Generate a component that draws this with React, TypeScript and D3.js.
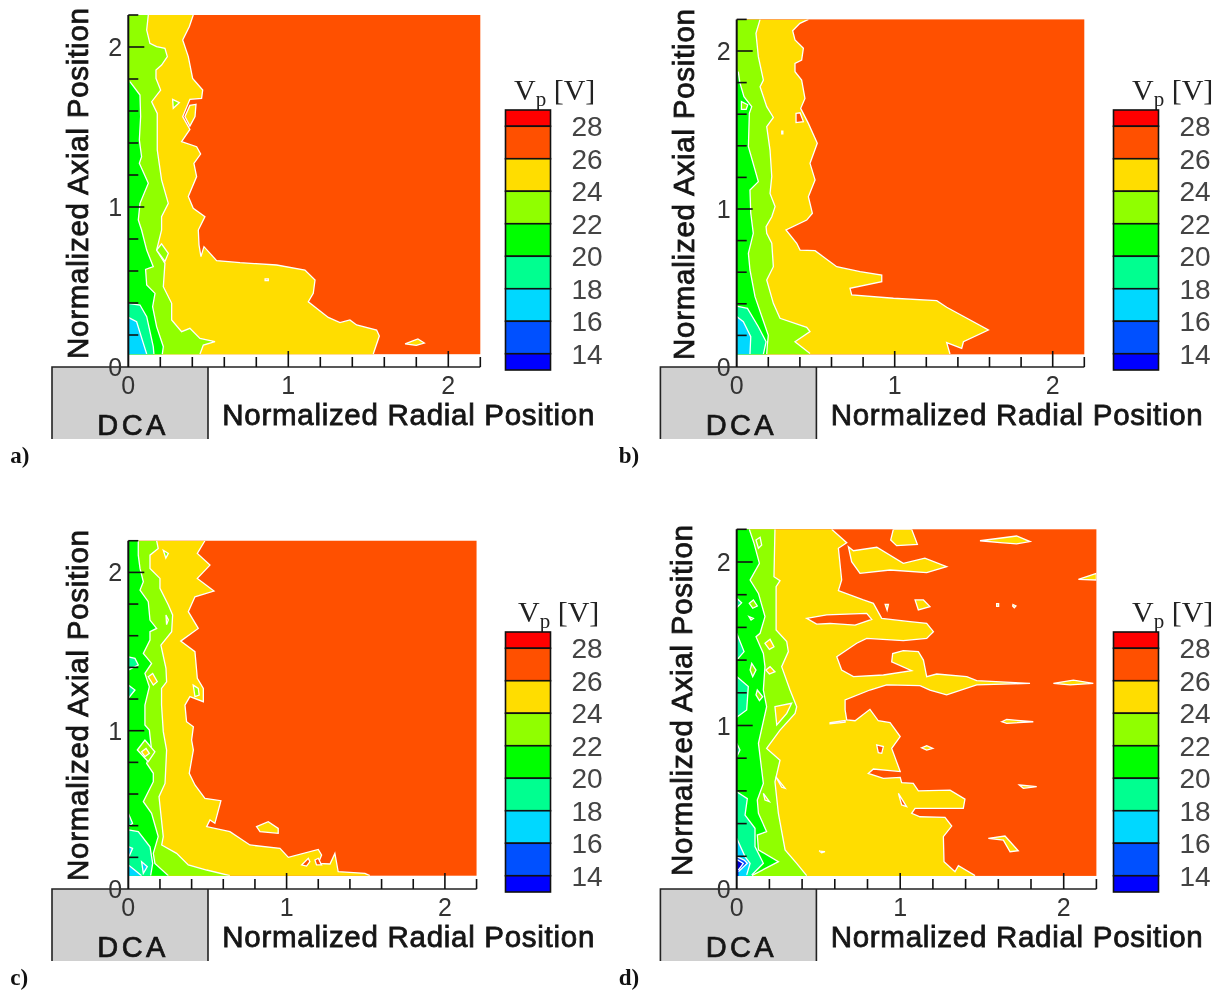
import React from "react";
import * as d3 from "d3";

type P = [number, number];

const levels = [28, 26, 24, 22, 20, 18, 16, 14];
const bandColors = ["#ff0000", "#ff5000", "#ffdd00", "#90ff00", "#00ff00", "#00ff90", "#00d8ff", "#0050ff", "#0000ff"];
const ORANGE = "#ff5000", YELLOW = "#ffdd00", LIME = "#90ff00", GREEN = "#00ff00", SPRING = "#00ff90", CYAN = "#00d8ff", BLUE = "#0050ff", DEEP = "#0000d8";
const axisTicks = [0, 0.2, 0.4, 0.6, 0.8, 1, 1.2, 1.4, 1.6, 1.8, 2, 2.2];
const majorTicks = [0, 1, 2];

// Panel a: contour edges as [radial, axial]
const a24: P[] = [[.406,2.2],[.381,2.127],[.34,2.044],[.375,1.94],[.402,1.804],[.465,1.731],[.458,1.679],[.385,1.673],[.34,1.565],[.385,1.485],[.333,1.408],[.427,1.377],[.452,1.331],[.41,1.273],[.427,1.19],[.375,1.065],[.406,.992],[.479,.94],[.4375,.856],[.442,.7625],[.454,.69],[.473,.752],[.552,.665],[.698,.652],[.927,.6375],[1.104,.606],[1.167,.544],[1.156,.46],[1.125,.408],[1.25,.31],[1.323,.277],[1.385,.294],[1.427,.2625],[1.552,.231],[1.569,.194],[1.531,.081]];
const a22: P[] = [[.125,2.2],[.115,2.106],[.135,2.023],[.177,2.002],[.229,1.992],[.244,1.94],[.208,1.8875],[.173,1.856],[.173,1.804],[.202,1.731],[.146,1.658],[.181,1.585],[.181,1.356],[.208,1.169],[.25,1.023],[.208,.94],[.208,.856],[.177,.731],[.229,.648],[.219,.502],[.271,.398],[.271,.294],[.333,.221],[.385,.242],[.448,.179],[.542,.158],[.469,.1375],[.448,.081]];
const a20: P[] = [[.01,1.783],[.073,1.7],[.077,1.565],[.069,1.419],[.083,1.315],[.069,1.273],[.125,1.148],[.073,1.023],[.0625,.919],[.083,.856],[.115,.731],[.156,.627],[.108,.61],[.115,.5125],[.167,.46],[.152,.377],[.177,.252],[.219,.127],[.2125,.081]];
const a18: P[] = [[0,.398],[.073,.3875],[.115,.3146],[.156,.127],[.16,.081]];
const a16: P[] = [[0,.31],[.052,.283],[.094,.148],[.115,.081]];
const aIslands: [string, P[]][] = [
  [YELLOW, [[1.73,.145],[1.77,.16],[1.81,.175],[1.85,.15],[1.8,.135]]],
  [ORANGE, [[.855,.55],[.875,.55],[.875,.54],[.855,.54]]],
  [YELLOW, [[.423,1.642],[.385,1.635],[.354,1.565],[.385,1.506],[.417,1.565]]],
  [LIME, [[.277,1.673],[.319,1.652],[.281,1.617]]],
  [LIME, [[.208,.77],[.25,.71],[.229,.66],[.177,.731]]],
];

// Panel b
const b24: P[] = [[.454,2.2],[.4,2.175],[.354,2.128],[.369,2.07],[.422,2.017],[.411,1.943],[.369,1.922],[.369,1.869],[.411,1.816],[.432,1.7],[.405,1.637],[.4536,1.542],[.51,1.416],[.464,1.289],[.496,1.184],[.4536,1.078],[.479,.973],[.443,.93],[.312,.867],[.38,.783],[.401,.74],[.496,.736],[.633,.635],[.781,.603],[.918,.582],[.918,.54],[.717,.498],[.728,.456],[.992,.435],[1.266,.42],[1.329,.378],[1.593,.234],[1.435,.16],[1.424,.118],[1.329,.154],[1.35,.082]];
const b22: P[] = [[.148,2.2],[.122,2.112],[.137,1.964],[.169,1.816],[.148,1.774],[.19,1.648],[.232,1.58],[.19,1.521],[.211,1.373],[.222,1.205],[.211,1.099],[.243,1.015],[.222,.951],[.186,.888],[.19,.846],[.222,.783],[.232,.635],[.19,.551],[.232,.403],[.274,.308],[.443,.251],[.464,.224],[.369,.16],[.464,.086]];
const b20: P[] = [[.01,1.869],[.02,1.8],[.046,1.711],[.095,1.648],[.08,1.605],[.074,1.395],[.137,1.173],[.084,1.12],[.089,.973],[.105,.846],[.074,.719],[.084,.614],[.116,.445],[.2,.2],[.194,.139],[.19,.082]];
const b18: P[] = [[0,.386],[.068,.371],[.137,.255],[.186,.16],[.169,.082]];
const b16: P[] = [[0,.319],[.042,.287],[.089,.192],[.084,.082]];
const bIslands: [string, P[]][] = [
  [ORANGE, [[.3755,1.605],[.401,1.609],[.422,1.553],[.3755,1.547]]],
  [ORANGE, [[.285,1.492],[.292,1.492],[.292,1.475],[.285,1.475]]],
  [LIME, [[.03,1.68],[.07,1.66],[.06,1.63],[.03,1.63]]],
];

// Panel c
const c24: P[] = [[.484,2.2],[.436,2.12],[.516,2.046],[.436,1.962],[.541,1.882],[.421,1.846],[.379,1.752],[.442,1.646],[.331,1.566],[.421,1.499],[.436,1.331],[.474,1.267],[.474,1.183],[.389,1.215],[.358,1.162],[.368,1.057],[.411,1.025],[.4,.941],[.411,.878],[.385,.731],[.421,.657],[.484,.573],[.585,.558],[.547,.415],[.516,.436],[.495,.394],[.642,.362],[.768,.278],[.958,.257],[1.011,.2],[1.2,.25],[1.221,.215],[1.2,.162],[1.274,.158],[1.305,.225],[1.326,.109],[1.495,.099],[1.526,.084]];
const c22: P[] = [[.179,2.2],[.189,2.151],[.137,2.109],[.137,2.025],[.2,1.962],[.2,1.899],[.253,1.794],[.28,1.731],[.274,1.625],[.206,1.541],[.238,1.394],[.242,1.309],[.21,1.267],[.21,1.162],[.221,.994],[.242,.878],[.232,.667],[.194,.583],[.221,.331],[.211,.278],[.305,.225],[.379,.152],[.495,.12],[.642,.084]];
const c20: P[] = [[.063,2.2],[.063,2.109],[.074,2.025],[.095,1.941],[.074,1.888],[.126,1.815],[.137,1.699],[.179,1.646],[.137,1.625],[.137,1.573],[.095,1.488],[.147,1.425],[.105,1.362],[.133,1.278],[.105,1.162],[.105,1.036],[.133,1.004],[.147,.878],[.116,.794],[.158,.731],[.158,.678],[.095,.552],[.147,.478],[.189,.331],[.158,.225],[.168,.162],[.253,.084]];
const c18: P[] = [[0,.373],[.063,.362],[.137,.267],[.154,.162],[.141,.084]];
const c16: P[] = [[0,.152],[.04,.12],[.084,.084]];
const cIslands: [string, P[]][] = [
  [YELLOW, [[.81,.394],[.884,.425],[.947,.383],[.947,.352],[.832,.362]]],
  [ORANGE, [[1.095,.152],[1.137,.194],[1.147,.173],[1.126,.145]]],
  [ORANGE, [[1.179,.183],[1.2,.194],[1.221,.152],[1.189,.152]]],
  [LIME, [[.41,1.288],[.442,1.267],[.448,1.225],[.421,1.215]]],
  [LIME, [[.221,2.14],[.253,2.12],[.237,2.09]]],
  [YELLOW, [[.238,1.731],[.253,1.7],[.242,1.67]]],
  [LIME, [[.057,.878],[.105,.941],[.168,.867],[.126,.804]]],
  [YELLOW, [[.084,.867],[.112,.888],[.133,.857],[.105,.836]]],
  [YELLOW, [[.126,1.341],[.154,1.362],[.183,1.31],[.158,1.288]]],
  [SPRING, [[0,1.467],[.042,1.457],[.063,1.415],[0,1.383]]],
  [SPRING, [[0,1.288],[.042,1.257],[0,1.204]]],
  [SPRING, [[0,.478],[.027,.415],[0,.394]]],
  [CYAN, [[0,.267],[.027,.257],[0,.194]]],
  [CYAN, [[.084,.173],[.12,.141],[.095,.099]]],
];

// Panel d
const d24: P[] = [[.581,2.2],[.673,2.118],[.622,2.084],[.642,1.89],[.622,1.825],[.775,1.768],[.836,1.747],[.887,1.655],[1.06,1.635],[1.162,1.625],[1.203,1.574],[1.162,1.533],[1.019,1.519],[.795,1.533],[.734,1.503],[.612,1.421],[.642,1.339],[.714,1.299],[.897,1.309],[1.07,1.335],[.948,1.39],[.954,1.44],[1.019,1.458],[1.111,1.452],[1.142,1.4],[1.162,1.299],[1.223,1.315],[1.407,1.299],[1.468,1.274],[1.794,1.258],[1.468,1.248],[1.284,1.187],[1.182,1.217],[1.121,1.244],[.917,1.248],[.815,1.217],[.663,1.156],[.663,1.095],[.673,1.034],[.724,1.029],[.815,1.099],[.866,1.029],[.938,1.017],[1.0,.932],[.948,.86],[1.0,.718],[.836,.734],[.805,.707],[.897,.677],[1.0,.683],[1.009,.65],[1.08,.646],[1.111,.6],[1.305,.605],[1.396,.55],[1.386,.493],[1.091,.493],[1.07,.463],[1.121,.442],[1.274,.438],[1.315,.385],[1.264,.32],[1.268,.167],[1.335,.106],[1.356,.143],[1.458,.082]];
const d22: P[] = [[.234,2.2],[.228,1.91],[.265,1.886],[.241,1.849],[.241,1.584],[.306,1.513],[.316,1.452],[.275,1.36],[.326,1.217],[.367,1.115],[.357,1.074],[.265,.972],[.183,.86],[.265,.788],[.234,.656],[.255,.463],[.296,.239],[.367,.157],[.428,.082]];
const d20: P[] = [[.077,2.2],[.106,2.114],[.139,1.992],[.082,1.89],[.133,1.808],[.173,1.666],[.143,1.564],[.118,1.543],[.163,1.441],[.173,1.36],[.163,1.217],[.183,1.115],[.133,.891],[.163,.646],[.126,.544],[.133,.463],[.183,.351],[.126,.33],[.133,.239],[.255,.167],[.092,.082]];
const d18: P[] = [[0,.595],[.065,.553],[.051,.452],[.112,.371],[.112,.259],[.163,.157],[.092,.086]];
const d16: P[] = [[0,.31],[.051,.198],[.082,.157],[.061,.086]];
const d14: P[] = [[0,.198],[.045,.177],[.065,.157],[.01,.106]];
const d13: P[] = [[0,.181],[.04,.157],[.01,.116]];
const dIslands: [string, P[]][] = [
  [YELLOW, [[.958,2.2],[1.07,2.2],[1.105,2.108],[.978,2.1],[.942,2.135]]],
  [YELLOW, [[1.488,2.13],[1.712,2.159],[1.794,2.125],[1.712,2.111],[1.611,2.119]]],
  [YELLOW, [[.683,2.094],[.714,2.069],[.857,2.09],[1.019,1.992],[1.151,2.023],[1.284,1.971],[1.162,1.935],[.938,1.951],[.754,1.931],[.703,2.002]]],
  [YELLOW, [[2.09,1.894],[2.2,1.931],[2.2,1.89]]],
  [YELLOW, [[1.091,1.768],[1.142,1.768],[1.182,1.727],[1.111,1.707]]],
  [YELLOW, [[.908,1.74],[.928,1.74],[.92,1.705]]],
  [YELLOW, [[1.59,1.745],[1.602,1.745],[1.602,1.728],[1.59,1.728]]],
  [YELLOW, [[1.69,1.74],[1.708,1.731],[1.698,1.72],[1.688,1.731]]],
  [YELLOW, [[1.937,1.258],[2.059,1.278],[2.181,1.258],[2.039,1.248]]],
  [ORANGE, [[.428,1.655],[.55,1.676],[.795,1.686],[.826,1.649],[.724,1.614],[.571,1.624],[.489,1.62]]],
  [YELLOW, [[1.621,1.023],[1.651,1.037],[1.814,1.023],[1.651,1.013]]],
  [YELLOW, [[1.131,.864],[1.162,.876],[1.199,.86],[1.162,.85]]],
  [YELLOW, [[1.729,.636],[1.835,.626],[1.753,.616]]],
  [YELLOW, [[1.539,.31],[1.641,.324],[1.722,.234],[1.672,.228],[1.631,.299]]],
  [ORANGE, [[.856,.881],[.897,.871],[.887,.83],[.866,.834]]],
  [ORANGE, [[.989,.585],[1.039,.504],[1.009,.514]]],
  [ORANGE, [[.504,.232],[.54,.228],[.52,.222]]],
  [ORANGE, [[.571,1.017],[.663,1.03],[.663,1.02],[.571,1.01]]],
  [YELLOW, [[.234,1.115],[.336,1.136],[.306,1.074],[.245,1.003]]],
  [YELLOW, [[.239,.687],[.296,.616],[.275,.622]]],
  [YELLOW, [[.163,.585],[.2,.534],[.173,.544]]],
  [YELLOW, [[.173,1.503],[.204,1.527],[.228,1.482],[.2,1.466]]],
  [YELLOW, [[.179,1.339],[.204,1.36],[.234,1.329],[.2,1.315]]],
  [LIME, [[.118,2.135],[.143,2.151],[.153,2.104],[.133,2.084]]],
  [LIME, [[.077,1.747],[.102,1.768],[.126,1.731],[.098,1.717]]],
  [LIME, [[.075,1.666],[.102,1.655],[.088,1.645]]],
  [LIME, [[.092,1.38],[.118,1.339],[.098,1.299],[.082,1.339]]],
  [LIME, [[.126,1.217],[.159,1.176],[.139,1.152],[.118,1.187]]],
  [SPRING, [[0,1.564],[.045,1.452],[0,1.4]]],
  [SPRING, [[0,1.299],[.071,1.238],[.061,1.095],[0,1.05]]],
  [SPRING, [[0,.891],[.02,.85],[0,.809]]],
  [SPRING, [[0,1.778],[.03,1.75],[0,1.72]]],
];

interface PanelCfg {
  tag: string; x0: number; y0: number; unit: number; bottom: number;
  legendX: number; legendY: number; titleX: number; titleY: number;
  yTitleX: number; yTitleBase: number;
  layers: [string, P[]][]; islands: [string, P[]][];
}

const panels: PanelCfg[] = [
  { tag: "a)", x0: 128.3, y0: 367, unit: 160, bottom: 0.08, legendX: 505.5, legendY: 110, titleX: 514, titleY: 100, yTitleX: 88, yTitleBase: 359,
    layers: [[YELLOW, a24], [LIME, a22], [GREEN, a20], [SPRING, a18], [CYAN, a16]], islands: aIslands },
  { tag: "b)", x0: 736.7, y0: 367, unit: 158, bottom: 0.08, legendX: 1113.5, legendY: 110, titleX: 1132, titleY: 100, yTitleX: 694, yTitleBase: 360,
    layers: [[YELLOW, b24], [LIME, b22], [GREEN, b20], [SPRING, b18], [CYAN, b16]], islands: bIslands },
  { tag: "c)", x0: 128.3, y0: 889, unit: 158.3, bottom: 0.084, legendX: 505.5, legendY: 632, titleX: 518, titleY: 622, yTitleX: 88, yTitleBase: 881,
    layers: [[YELLOW, c24], [LIME, c22], [GREEN, c20], [SPRING, c18], [CYAN, c16]], islands: cIslands },
  { tag: "d)", x0: 736.7, y0: 889, unit: 163.5, bottom: 0.08, legendX: 1113.5, legendY: 632, titleX: 1132, titleY: 622, yTitleX: 692, yTitleBase: 876,
    layers: [[YELLOW, d24], [LIME, d22], [GREEN, d20], [SPRING, d18], [CYAN, d16], [BLUE, d14], [DEEP, d13]], islands: dIslands },
];

const SANS = "'Liberation Sans', Arial, sans-serif";
const NARROW = "'Liberation Sans Narrow', 'Liberation Sans', sans-serif";
const SERIF = "'Liberation Serif', 'Times New Roman', serif";
const TICKGREY = "#333";

function Panel({ cfg, index }: { cfg: PanelCfg; index: number }) {
  const { x0, y0, unit } = cfg;
  const x = d3.scaleLinear().domain([0, 2.2]).range([x0, x0 + 2.2 * unit]);
  const y = d3.scaleLinear().domain([0, 2.2]).range([y0, y0 - 2.2 * unit]);
  const line = d3.line<P>().x((d) => x(d[0])).y((d) => y(d[1]));
  const clipId = `plot-${index}`;
  const clipX = x(0), clipY = y(2.2), clipW = x(2.2) - x(0), clipH = y(cfg.bottom) - y(2.2);
  const legendY = d3.scaleLinear().domain([29, 13]).range([cfg.legendY, cfg.legendY + 260]);
  const bands: [number, number][] = [[28, 29], ...levels.slice(1).map((v) => [v, v + 2] as [number, number]), [13, 14]];
  const boxLeft = x0 - 76.3, boxW = 156;

  return (
    <g>
      <defs>
        <clipPath id={clipId}><rect x={clipX} y={clipY} width={clipW} height={clipH} /></clipPath>
      </defs>
      <rect x={clipX} y={clipY} width={clipW} height={clipH} fill={ORANGE} />
      <g clipPath={`url(#${clipId})`}>
        {cfg.layers.map(([color, pts], i) => {
          const last = pts[pts.length - 1];
          const closed: P[] = [...pts, [last[0], 0], [0, 0], [0, pts[0][1]]];
          return (
            <g key={i}>
              <path d={(line(closed) ?? "") + "Z"} fill={color} />
              <path d={line(pts) ?? ""} fill="none" stroke="#fff" strokeWidth={1.3} />
            </g>
          );
        })}
        {cfg.islands.map(([color, pts], i) => (
          <path key={i} d={(line(pts) ?? "") + "Z"} fill={color} stroke="#fff" strokeWidth={1.3} />
        ))}
      </g>

      {/* DCA box */}
      <rect x={boxLeft} y={y0} width={boxW} height={72} fill="#d0d0d0" />
      <path d={`M${boxLeft},${y0 + 72}V${y0}H${x(2.2)}M${boxLeft + boxW},${y0}V${y0 + 72}`} fill="none" stroke="#222" strokeWidth={1.6} />
      <text x={x0 + 3} y={y0 + 68} textAnchor="middle" fontFamily={SANS} fontSize={29} fill="#151515" stroke="#151515" strokeWidth={0.7} textLength={68} lengthAdjust="spacing">DCA</text>

      {/* axes */}
      <line x1={x0} x2={x0} y1={y(2.2)} y2={y0} stroke="#111" strokeWidth={2} />
      {axisTicks.map((t) => {
        const major = majorTicks.includes(t);
        const len = major ? 16 : 10;
        return (
          <g key={t} stroke="#111" strokeWidth={1.6}>
            {t > 0 && <line x1={x0} x2={x0 + len} y1={y(t)} y2={y(t)} />}
            {t > 0 && <line x1={x(t)} x2={x(t)} y1={y0} y2={y0 - len} />}
          </g>
        );
      })}
      {majorTicks.map((t) => (
        <g key={t} fontFamily={NARROW} fontSize={25} fill={TICKGREY}>
          <text x={x0 - 13} y={y(t) + 9} textAnchor="middle">{t}</text>
          <text x={x(t)} y={y0 + 27} textAnchor="middle">{t}</text>
        </g>
      ))}

      {/* axis titles */}
      <text transform={`translate(${cfg.yTitleX},${cfg.yTitleBase}) rotate(-90)`} fontFamily={SANS} fontSize={29.5} stroke="#151515" strokeWidth={0.8} fill="#151515" textLength={351} lengthAdjust="spacing">Normalized Axial Position</text>
      <text x={x0 + 94} y={y0 + 58} fontFamily={SANS} fontSize={29.5} stroke="#151515" strokeWidth={0.8} fill="#151515" textLength={372} lengthAdjust="spacing">Normalized Radial Position</text>

      {/* panel tag */}
      <text x={x0 - 118} y={y0 + 96} fontFamily={SERIF} fontSize={23} fontWeight={700} fill="#111">{cfg.tag}</text>

      {/* legend */}
      <text x={cfg.titleX} y={cfg.titleY} fontFamily={SERIF} fontSize={30} fill="#222">V<tspan fontSize={21} dy={6}>p</tspan><tspan dy={-6}> [V]</tspan></text>
      {bands.map(([lo, hi], i) => (
        <rect key={lo} x={cfg.legendX} y={legendY(hi)} width={45} height={legendY(lo) - legendY(hi)} fill={bandColors[i]} stroke="#111" strokeWidth={1.6} />
      ))}
      {levels.map((v) => (
        <text key={v} x={cfg.legendX + 66} y={legendY(v) + 10} fontFamily={SANS} fontSize={28} fill="#444">{v}</text>
      ))}
    </g>
  );
}

export default function App() {
  return (
    <svg width={1217} height={992} style={{ position: "absolute", left: 0, top: 0, background: "#fff", filter: "blur(0.35px)" }}>
      {panels.map((p, i) => <Panel key={p.tag} cfg={p} index={i} />)}
    </svg>
  );
}
